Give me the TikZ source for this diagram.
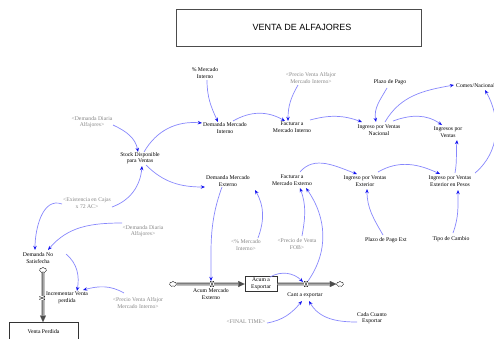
\documentclass[tikz,border=0pt]{standalone}
\usepackage{fontspec}
\setmainfont{Liberation Serif}
\newfontfamily\titlefont{Liberation Sans}
\usetikzlibrary{arrows.meta,shapes.symbols}

\definecolor{linkblue}{RGB}{135,135,252}
\definecolor{headblue}{RGB}{20,20,240}
\definecolor{shadowgray}{RGB}{135,135,135}

\tikzset{
  aux/.style={font=\fontsize{5.7}{6.6}\selectfont, align=center, inner sep=1pt},
  shadow/.style={aux, text=shadowgray},
  conn/.style={draw=linkblue, line width=0.7pt,
    -{Stealth[length=4.2pt,width=3.4pt,color=headblue]}},
  stockbox/.style={aux, draw=black!80, line width=0.6pt},
  pipeout/.style={line width=2.6pt, draw=black!70},
  pipein/.style={line width=1.0pt, draw=black!15},
  pipetip/.style={-{Triangle[length=6.5pt,width=6pt,line width=0.1pt]}},
  cloudnode/.style={cloud, cloud puffs=7, draw=black!80, line width=0.4pt,
    fill=white, minimum width=7pt, minimum height=5.5pt, inner sep=0pt},
  valveh/.style={fill=white, minimum width=3.6pt, minimum height=5.5pt, inner sep=0pt,
    path picture={\draw[line width=0.35pt]
      (path picture bounding box.north west) -- (path picture bounding box.north east)
      -- (path picture bounding box.south west) -- (path picture bounding box.south east)
      -- cycle;}},
  valvev/.style={fill=white, minimum width=5.5pt, minimum height=3.6pt, inner sep=0pt,
    path picture={\draw[line width=0.35pt]
      (path picture bounding box.north west) -- (path picture bounding box.south west)
      -- (path picture bounding box.north east) -- (path picture bounding box.south east)
      -- cycle;}},
}

\begin{document}
\begin{tikzpicture}[x=1pt,y=1pt]
\useasboundingbox (0,0) rectangle (494,-338);

% title
\node[draw=black!70, line width=0.6pt, minimum width=245pt, minimum height=37pt,
      font=\titlefont\fontsize{9}{10}\selectfont] (title) at (298.5,-27.5)
      {\hspace*{7pt}VENTA DE ALFAJORES};

% auxiliaries and shadow variables
\node[aux] (pmi) at (205,-73) {\% Mercado\\Interno};
\node[shadow] (pvami) at (311,-78) {<Precio Venta Alfajor\\Mercado Interno>};
\node[aux] (pp) at (390,-82) {Plazo de Pago};
\node[aux, anchor=west] (cn) at (455,-86) {Comex/Nacional};
\node[shadow] (dda1) at (92,-122) {<Demanda Diaria\\Alfajores>};
\node[aux] (dmi) at (225,-128) {Demanda Mercado\\Interno};
\node[aux] (fmi) at (292,-127) {Facturar a\\Mercado Interno};
\node[aux] (ivn) at (379,-130) {Ingreso por Ventas\\Nacional};
\node[aux] (iv) at (448,-132) {Ingresos por\\Ventas};
\node[aux] (sdv) at (140,-158) {Stock Disponible\\para Ventas};
\node[aux] (dme) at (228,-181) {Demanda Mercado\\Externo};
\node[aux] (fme) at (292,-180) {Facturar a\\Mercado Externo};
\node[aux] (ive) at (365,-181) {Ingreso por Ventas\\Exterior};
\node[aux] (ivep) at (450,-181) {Ingreso por Ventas\\Exterior en Pesos};
\node[shadow] (ec) at (87,-203) {<Existencia en Cajas\\x 72 AC>};
\node[shadow] (dda2) at (143,-231) {<Demanda Diaria\\Alfajores>};
\node[shadow] (pmi2) at (246,-245) {<\% Mercado\\Interno>};
\node[shadow] (pfob) at (297,-244) {<Precio de Venta\\FOB>};
\node[aux] (ppe) at (386,-240) {Plazo de Pago Ext};
\node[aux] (tc) at (451,-239) {Tipo de Cambio};
\node[aux] (dns) at (38,-258) {Demanda No\\Satisfecha};
\node[shadow] (pvami2) at (138,-303) {<Precio Venta Alfajor\\Mercado Interno>};
\node[shadow] (ft) at (246,-322) {<FINAL TIME>};
\node[aux] (cce) at (372,-318) {Cada Cuanto\\Exportar};

% stocks
\node[stockbox, minimum width=32pt, minimum height=15pt] (ae) at (261,-284) {Acum a\\Exportar};
\node[stockbox, minimum width=69pt, minimum height=18pt, anchor=north] (vp) at (43.5,-322) {Venta Perdida};

% sources and sinks
\node[cloudnode] (c1) at (43,-270) {};
\node[cloudnode] (c2) at (173,-284) {};
\node[cloudnode] (c3) at (340,-284) {};

% flow pipes
\draw[pipeout, pipetip] (c1) -- (c1 |- vp.north);
\draw[pipein, shorten >=6.5pt] (c1) -- (c1 |- vp.north);
\draw[pipeout, pipetip] (c2) -- (ae.west);
\draw[pipein, shorten >=6.5pt] (c2) -- (ae.west);
\draw[pipeout, pipetip] (ae.east) -- (c3);
\draw[pipein, shorten >=6.5pt] (ae.east) -- (c3);

% valves and flow names
\node[valvev] (v1) at (42,-298) {};
\node[valveh] (v2) at (212,-284) {};
\node[valveh] (v3) at (306,-284) {};
\node[aux] (ivp) at (67,-298) {Incrementar Venta\\perdida};
\node[aux] (ame) at (211,-294) {Acum Mercado\\Externo};
\node[aux] (ce) at (305,-295) {Cant a exportar};

% causal connectors
\draw[conn] ([shift={(2,-7)}]pmi.center) to[out=-90,in=115] ([shift={(-7,6)}]dmi.center);
\draw[conn] ([shift={(21,-3)}]dda1.center) to[out=-25,in=100] ([shift={(-2,6)}]sdv.center);
\draw[conn] ([shift={(4,6)}]sdv.center) to[out=60,in=175] ([shift={(-23,5)}]dmi.center);
\draw[conn] ([shift={(6,-7)}]sdv.center) to[out=-45,in=180] ([shift={(-23,-6)}]dme.center);
\draw[conn] ([shift={(25,-4)}]ec.center) to[out=20,in=-95] ([shift={(2,-8)}]sdv.center);
\draw[conn] ([shift={(-25,-1)}]ec.center) to[out=160,in=90] ([shift={(-3,8)}]dns.center);
\draw[conn] ([shift={(-21,8)}]dda2.center) to[out=180,in=50] ([shift={(10,8)}]dns.center);
\draw[conn] ([shift={(28,4)}]dns.center) to[out=-40,in=80] ([shift={(10,7)}]ivp.center);
\draw[conn] ([shift={(-14,10)}]pvami2.center) to[out=150,in=15] ([shift={(16,8)}]ivp.center);
\draw[conn] ([shift={(8,7)}]dmi.center) to[out=30,in=150] ([shift={(-7,6)}]fmi.center);
\draw[conn] ([shift={(-13,-7)}]pvami.center) to[out=-120,in=90] ([shift={(-4,6)}]fmi.center);
\draw[conn] ([shift={(18,7)}]fmi.center) to[out=15,in=160] ([shift={(-17,8)}]ivn.center);
\draw[conn] ([shift={(-3,-6)}]pp.center) to[out=-120,in=100] ([shift={(-3,8)}]ivn.center);
\draw[conn] ([shift={(6,8)}]ivn.center) to[out=60,in=190] ([shift={(-1,1)}]cn.west);
\draw[conn] ([shift={(14,9)}]ivn.center) to[out=20,in=145] ([shift={(-6,7)}]iv.center);
\draw[conn] ([shift={(5,8)}]ivep.center) to[out=80,in=-95] ([shift={(9,-8)}]iv.center);
\draw[conn] ([shift={(25,8)}]ivep.center) to[out=40,in=-60] ([shift={(30,-4)}]cn.west);
\draw[conn] ([shift={(8,8)}]fme.center) to[out=50,in=160] ([shift={(-8,7)}]ive.center);
\draw[conn] ([shift={(13,9)}]ive.center) to[out=30,in=155] ([shift={(-10,7)}]ivep.center);
\draw[conn] ([shift={(-3,5)}]ppe.center) to[out=120,in=-90] ([shift={(2,-8)}]ive.center);
\draw[conn] ([shift={(2,6)}]tc.center) to[out=70,in=-90] ([shift={(8,-9)}]ivep.center);
\draw[conn] ([shift={(-6,-6)}]dme.center) to[out=-110,in=90] ([shift={(-1,3)}]v2.center);
\draw[conn] ([shift={(12,7)}]pmi2.center) to[out=70,in=-60] ([shift={(27,-9)}]dme.center);
\draw[conn] ([shift={(5,8)}]pfob.center) to[out=80,in=-70] ([shift={(8,-8)}]fme.center);
\draw[conn] ([shift={(2,3)}]v3.center) to[out=55,in=-55] ([shift={(14,-8)}]fme.center);
\draw[conn] ([shift={(9,7)}]ae.center) to[out=30,in=135] ([shift={(-3,2)}]v3.center);
\draw[conn] ([shift={(21,-1)}]ft.center) to[out=10,in=-130] ([shift={(-3,-6)}]ce.center);
\draw[conn] ([shift={(-15,-4)}]cce.center) to[out=180,in=-60] ([shift={(4,-6)}]ce.center);
\end{tikzpicture}
\end{document}
